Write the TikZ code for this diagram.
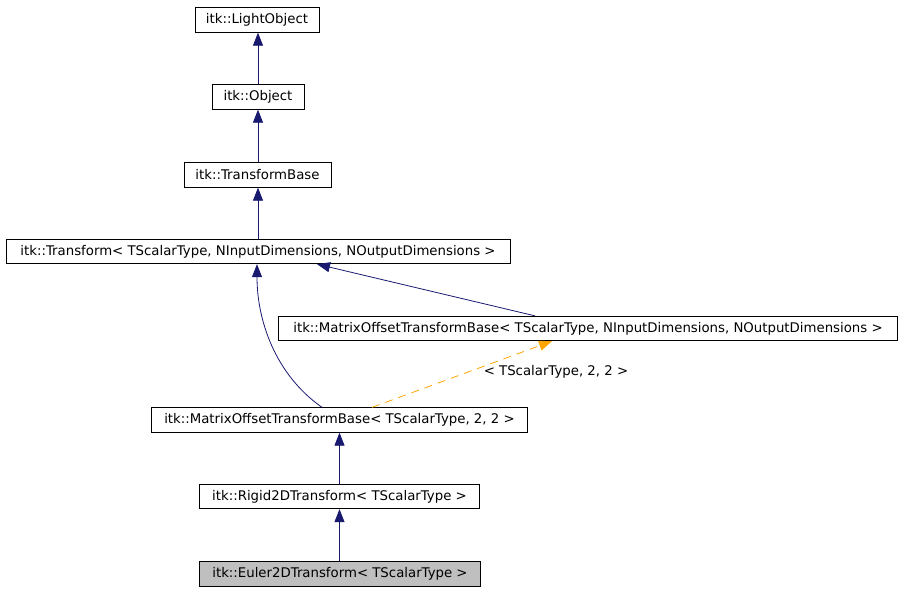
\documentclass[tikz,border=0pt]{standalone}
\usepackage{fontspec}
\setmainfont{DejaVu Sans}
\usetikzlibrary{arrows.meta}
\definecolor{edgenavy}{HTML}{191970}
\definecolor{edgeorange}{HTML}{FFA500}
\definecolor{boxgray}{HTML}{BFBFBF}
\begin{document}
\begin{tikzpicture}[x=1pt,y=-1pt,
  cls/.style={draw=black, line width=0.8pt, inner sep=0pt, minimum height=24.5pt,
    font=\fontsize{13.3}{16}\selectfont, anchor=center},
  inh/.style={draw=edgenavy, line width=0.8pt, -{Triangle[length=13pt,width=10pt,fill=edgenavy]}},
  tmpl/.style={draw=edgeorange, line width=0.8pt, dash pattern=on 8pt off 6pt,
    -{Triangle[length=13pt,width=10pt,fill=edgeorange]}},
  lbl/.style={font=\fontsize{13.3}{16}\selectfont, inner sep=0pt}]
\useasboundingbox (0,0) rectangle (903,592);
\node[cls, minimum width=124pt] (lo) at (257,20) {itk::LightObject};
\node[cls, minimum width=92pt] (ob) at (258,97) {itk::Object};
\node[cls, minimum width=147pt] (tb) at (257.5,175) {itk::TransformBase};
\node[cls, minimum width=504pt] (tr) at (258,251.5) {itk::Transform< TScalarType, NInputDimensions, NOutputDimensions >};
\node[cls, minimum width=619pt] (mo) at (588,328.5) {itk::MatrixOffsetTransformBase< TScalarType, NInputDimensions, NOutputDimensions >};
\node[cls, minimum width=376pt] (m2) at (339.5,420) {itk::MatrixOffsetTransformBase< TScalarType, 2, 2 >};
\node[cls, minimum width=280pt] (rg) at (339.5,496.5) {itk::Rigid2DTransform< TScalarType >};
\node[cls, minimum width=281pt, fill=boxgray] (eu) at (340,574) {itk::Euler2DTransform< TScalarType >};

\draw[inh] (ob.north) -- (ob.north |- lo.south);
\draw[inh] (tb.north -| ob.north) -- (ob.south);
\draw[inh] (tr.north) -- (tr.north |- tb.south);
\draw[inh] ([xshift=-53pt]mo.north) -- ([xshift=59pt]tr.south);
\draw[inh] ([xshift=-17.5pt]m2.north) .. controls +(-47,-33) and +(0,56) .. ([xshift=-1pt]tr.south);
\draw[tmpl] ([xshift=32.5pt]m2.north) -- ([xshift=-36pt]mo.south);
\node[lbl] (tl) at (556,372) {< TScalarType, 2, 2 >};
\draw[inh] (rg.north) -- (rg.north |- m2.south);
\draw[inh] (eu.north -| rg.north) -- (rg.south);
\end{tikzpicture}
\end{document}
